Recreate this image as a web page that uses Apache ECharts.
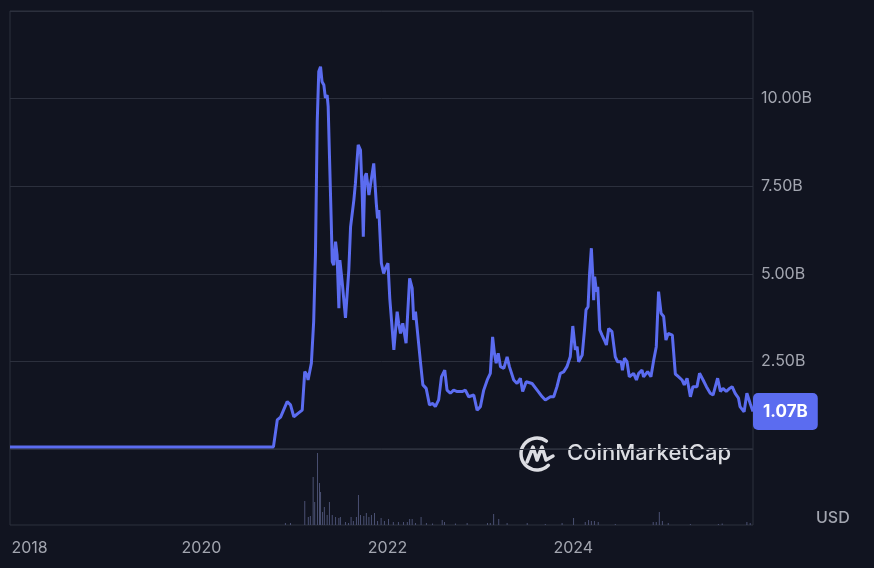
<!DOCTYPE html>
<html>
<head>
<meta charset="utf-8">
<script src="https://cdn.jsdelivr.net/npm/echarts@6/dist/echarts.min.js"></script>
<style>
html, body { margin: 0; padding: 0; background: #111420; }
#chart { width: 874px; height: 568px; }
</style>
</head>
<body>
<div id="chart"></div>
<script>
// market cap (billions USD)
const priceDates = [
  '2017-12-10', '2020-10-10', '2020-10-25', '2020-11-07', '2020-12-03', '2020-12-16', '2020-12-29',
  '2021-01-17', '2021-01-31', '2021-02-10', '2021-02-19', '2021-02-23', '2021-03-08', '2021-03-17',
  '2021-03-24', '2021-03-31', '2021-04-06', '2021-04-13', '2021-04-19', '2021-04-26', '2021-05-02',
  '2021-05-09', '2021-05-13', '2021-05-18', '2021-05-25', '2021-05-29', '2021-06-04', '2021-06-11',
  '2021-06-17', '2021-06-24', '2021-06-28', '2021-07-07', '2021-07-20', '2021-08-02', '2021-08-09',
  '2021-08-22', '2021-08-28', '2021-09-08', '2021-09-17', '2021-09-24', '2021-09-28', '2021-10-04',
  '2021-10-10', '2021-10-20', '2021-10-26', '2021-11-08', '2021-11-18', '2021-11-23', '2021-11-28',
  '2021-12-08', '2021-12-17', '2021-12-24', '2022-01-03', '2022-01-10', '2022-01-17', '2022-01-26',
  '2022-02-08', '2022-02-14', '2022-02-21', '2022-03-02', '2022-03-15', '2022-03-29', '2022-04-08',
  '2022-04-14', '2022-04-21', '2022-05-11', '2022-05-20', '2022-06-02', '2022-06-15', '2022-06-28',
  '2022-07-08', '2022-07-21', '2022-08-01', '2022-08-14', '2022-08-23', '2022-09-05', '2022-09-18',
  '2022-10-02', '2022-10-21', '2022-11-03', '2022-11-16', '2022-12-06', '2022-12-19', '2023-01-01',
  '2023-01-14', '2023-01-28', '2023-02-09', '2023-02-18', '2023-02-25', '2023-03-04', '2023-03-12',
  '2023-03-21', '2023-04-03', '2023-04-16', '2023-04-25', '2023-05-12', '2023-05-25', '2023-06-07',
  '2023-06-16', '2023-06-30', '2023-07-23', '2023-08-12', '2023-09-01', '2023-09-13', '2023-10-03',
  '2023-10-16', '2023-10-29', '2023-11-11', '2023-11-24', '2023-12-07', '2023-12-20', '2023-12-30',
  '2024-01-09', '2024-01-16', '2024-01-22', '2024-02-05', '2024-02-14', '2024-02-20', '2024-02-28',
  '2024-03-05', '2024-03-12', '2024-03-17', '2024-03-21', '2024-03-25', '2024-04-01', '2024-04-06',
  '2024-04-14', '2024-04-23', '2024-05-02', '2024-05-10', '2024-05-19', '2024-06-01', '2024-06-14',
  '2024-06-23', '2024-07-07', '2024-07-12', '2024-07-20', '2024-07-30', '2024-08-08', '2024-08-25',
  '2024-09-05', '2024-09-14', '2024-09-27', '2024-10-03', '2024-10-19', '2024-11-01', '2024-11-12',
  '2024-11-22', '2024-12-01', '2024-12-11', '2024-12-21', '2024-12-30', '2025-01-08', '2025-01-24',
  '2025-02-05', '2025-02-18', '2025-03-03', '2025-03-12', '2025-03-23', '2025-04-05', '2025-04-15',
  '2025-05-01', '2025-05-11', '2025-05-25', '2025-06-07', '2025-06-22', '2025-07-03', '2025-07-12',
  '2025-07-21', '2025-08-01', '2025-08-11', '2025-08-24', '2025-09-06', '2025-09-16', '2025-09-28',
  '2025-10-11', '2025-10-17', '2025-11-02', '2025-11-13', '2025-11-26', '2025-12-07'
]
const priceValues = [
  0.06, 0.06, 0.83, 0.91, 1.35, 1.26, 0.92,
  1.03, 1.11, 2.21, 2.11, 1.97, 2.45, 3.63,
  5.54, 9.34, 10.77, 10.91, 10.48, 10.39, 10.02,
  10.10, 9.77, 8.39, 6.49, 5.35, 5.25, 5.92,
  5.54, 4.02, 5.39, 4.77, 3.74, 5.10, 6.34,
  7.11, 7.58, 8.68, 8.53, 7.20, 6.06, 7.77,
  7.87, 7.25, 7.53, 8.15, 7.01, 6.58, 6.82,
  5.30, 5.01, 5.16, 5.30, 4.30, 4.30, 2.83,
  3.92, 3.59, 3.30, 3.59, 3.02, 4.87, 4.59,
  3.68, 3.92, 2.45, 1.83, 1.73, 1.26, 1.30,
  1.21, 1.40, 2.06, 2.25, 1.68, 1.59, 1.68,
  1.64, 1.64, 1.68, 1.49, 1.54, 1.11, 1.21,
  1.68, 1.97, 2.16, 3.20, 2.73, 2.45, 2.73,
  2.35, 2.30, 2.63, 2.35, 1.97, 1.87, 2.02,
  1.64, 1.92, 1.87, 1.68, 1.49, 1.40, 1.49,
  1.49, 1.78, 2.16, 2.20, 2.35, 2.63, 3.51,
  2.83, 2.92, 2.49, 2.68, 3.40, 3.97, 4.06,
  5.01, 5.73, 5.01, 4.25, 4.92, 4.49, 4.63,
  3.40, 3.25, 3.11, 2.97, 3.44, 3.35, 2.63,
  2.49, 2.49, 2.25, 2.59, 2.49, 2.06, 2.16,
  1.97, 2.16, 2.25, 2.06, 2.21, 2.06, 2.54,
  2.92, 4.49, 3.87, 3.78, 3.11, 3.30, 3.25,
  2.14, 2.06, 1.97, 1.83, 2.02, 1.49, 1.78,
  1.78, 2.16, 1.97, 1.78, 1.59, 1.54, 1.78,
  2.02, 1.64, 1.73, 1.64, 1.73, 1.78, 1.59,
  1.45, 1.21, 1.06, 1.59, 1.30, 1.07
]

// volume (billions USD)
const volDates = [
  '2020-11-26', '2020-12-16', '2021-02-10', '2021-02-24', '2021-03-04', '2021-03-15', '2021-03-21',
  '2021-04-01', '2021-04-09', '2021-04-13', '2021-04-21', '2021-04-28', '2021-05-09', '2021-05-18',
  '2021-05-29', '2021-06-11', '2021-06-24', '2021-06-30', '2021-07-20', '2021-08-01', '2021-08-11',
  '2021-08-20', '2021-09-01', '2021-09-09', '2021-09-17', '2021-09-30', '2021-10-10', '2021-10-20',
  '2021-10-30', '2021-11-11', '2021-11-23', '2021-12-07', '2021-12-20', '2022-01-05', '2022-01-24',
  '2022-02-13', '2022-03-05', '2022-03-20', '2022-03-29', '2022-04-08', '2022-04-21', '2022-05-13',
  '2022-06-03', '2022-06-27', '2022-08-04', '2022-08-13', '2022-09-25', '2022-11-10', '2023-01-29',
  '2023-02-09', '2023-02-22', '2023-03-14', '2023-04-16', '2023-07-04', '2023-09-13', '2023-11-18',
  '2024-01-02', '2024-02-17', '2024-03-01', '2024-03-12', '2024-03-24', '2024-04-08', '2024-06-14',
  '2024-11-10', '2024-11-22', '2024-12-04', '2024-12-16', '2025-01-08', '2025-04-05', '2025-07-24',
  '2025-08-08', '2025-11-13', '2025-11-26'
]
const volValues = [
  0.10, 0.10, 1.20, 0.40, 0.45, 2.40, 1.15,
  3.60, 2.10, 1.65, 0.65, 0.90, 0.50, 1.15,
  0.50, 0.40, 0.35, 0.40, 0.15, 0.10, 0.40,
  0.20, 0.40, 1.50, 0.50, 0.45, 0.60, 0.40,
  0.50, 0.60, 0.20, 0.35, 0.20, 0.30, 0.15,
  0.15, 0.15, 0.15, 0.30, 0.30, 0.10, 0.40,
  0.10, 0.08, 0.25, 0.15, 0.08, 0.10, 0.10,
  0.10, 0.55, 0.30, 0.10, 0.10, 0.05, 0.10,
  0.35, 0.15, 0.25, 0.20, 0.20, 0.15, 0.05,
  0.15, 0.15, 0.65, 0.20, 0.10, 0.05, 0.05,
  0.08, 0.15, 0.10
]

const yearTicks = [2018, 2020, 2022, 2024]
const startDate = '2017-12-10'
const endDate = '2025-12-07'

const lineColor = '#5b6cf0'
const gridColor = '#2c303d'
const textColor = '#a3a6b0'

const ts = d => new Date(d + 'T00:00:00Z').getTime()

const myChart = echarts.init(document.getElementById('chart'))

const option = {
  backgroundColor: '#111420',
  animation: false,
  grid: [
    { left: 10, right: 121, top: 11, height: 438, show: true, borderColor: gridColor, borderWidth: 1 },
    { left: 10, right: 121, top: 449, height: 76, show: true, borderColor: gridColor, borderWidth: 1 }
  ],
  xAxis: [
    {
      type: 'value',
      gridIndex: 0,
      min: ts(startDate),
      max: ts(endDate),
      axisLine: { show: false },
      axisTick: { show: false },
      axisLabel: { show: false },
      splitLine: { show: false }
    },
    {
      type: 'value',
      gridIndex: 1,
      min: ts(startDate),
      max: ts(endDate),
      axisLine: { show: false },
      axisTick: { show: false },
      splitLine: { show: false },
      axisLabel: {
        customValues: yearTicks.map(y => Date.UTC(y, 0, 1)),
        margin: 15,
        color: textColor,
        fontSize: 16,
        fontFamily: 'Inter',
        formatter: (val) => {
          const y = new Date(val).getUTCFullYear()
          return y === yearTicks[0] ? '{first|' + y + '}' : String(y)
        },
        rich: {
          first: { padding: [0, 0, 0, 28], color: textColor, fontSize: 16, fontFamily: 'Inter' }
        }
      }
    }
  ],
  yAxis: [
    {
      type: 'value',
      gridIndex: 0,
      position: 'right',
      min: 0,
      max: 12.5,
      interval: 2.5,
      axisLine: { show: false },
      axisTick: { show: false },
      splitLine: { lineStyle: { color: gridColor, width: 1 } },
      axisLabel: {
        margin: 8,
        color: textColor,
        fontSize: 16,
        fontFamily: 'Inter',
        formatter: (v) => (v === 0 || v === 12.5) ? '' : v.toFixed(2) + 'B'
      }
    },
    {
      type: 'value',
      gridIndex: 1,
      position: 'right',
      min: 0,
      max: 3.8,
      axisLine: { show: false },
      axisTick: { show: false },
      axisLabel: { show: false },
      splitLine: { show: false }
    }
  ],
  graphic: [
    {
      type: 'arc',
      shape: { cx: 537, cy: 454, r: 16, startAngle: -Math.PI * 0.3, endAngle: Math.PI * 0.25, clockwise: false },
      style: { stroke: '#dcdde2', lineWidth: 3.5, fill: null, lineCap: 'round' }
    },
    {
      type: 'polyline',
      shape: { points: [[527, 462], [533, 447], [537, 460], [542, 447], [546, 460], [553, 456]] },
      style: { stroke: '#dcdde2', lineWidth: 3.5, fill: null, lineJoin: 'round', lineCap: 'round' }
    },
    {
      type: 'text',
      left: 567,
      top: 442,
      style: { text: 'CoinMarketCap', fill: '#dcdde2', fontSize: 22, fontWeight: 500, fontFamily: 'Inter' }
    },
    {
      type: 'text',
      left: 816,
      top: 510,
      style: { text: 'USD', fill: textColor, fontSize: 16, fontWeight: 500, fontFamily: 'Inter' }
    }
  ],
  series: [
    {
      name: 'Market Cap',
      type: 'line',
      xAxisIndex: 0,
      yAxisIndex: 0,
      showSymbol: false,
      z: 3,
      lineStyle: { color: lineColor, width: 3 },
      data: priceDates.map((d, i) => [ts(d), priceValues[i]]),
      endLabel: {
        show: true,
        distance: 0,
        formatter: (p) => p.value[1].toFixed(2) + 'B',
        backgroundColor: lineColor,
        color: '#ffffff',
        fontSize: 17,
        fontWeight: 'bold',
        fontFamily: 'Inter',
        padding: [10, 10],
        borderRadius: 5
      }
    },
    {
      name: 'Volume',
      type: 'bar',
      xAxisIndex: 1,
      yAxisIndex: 1,
      barWidth: 1,
      itemStyle: { color: '#4a5072' },
      data: volDates.map((d, i) => [ts(d), volValues[i]])
    }
  ]
}

myChart.setOption(option)
</script>
</body>
</html>
